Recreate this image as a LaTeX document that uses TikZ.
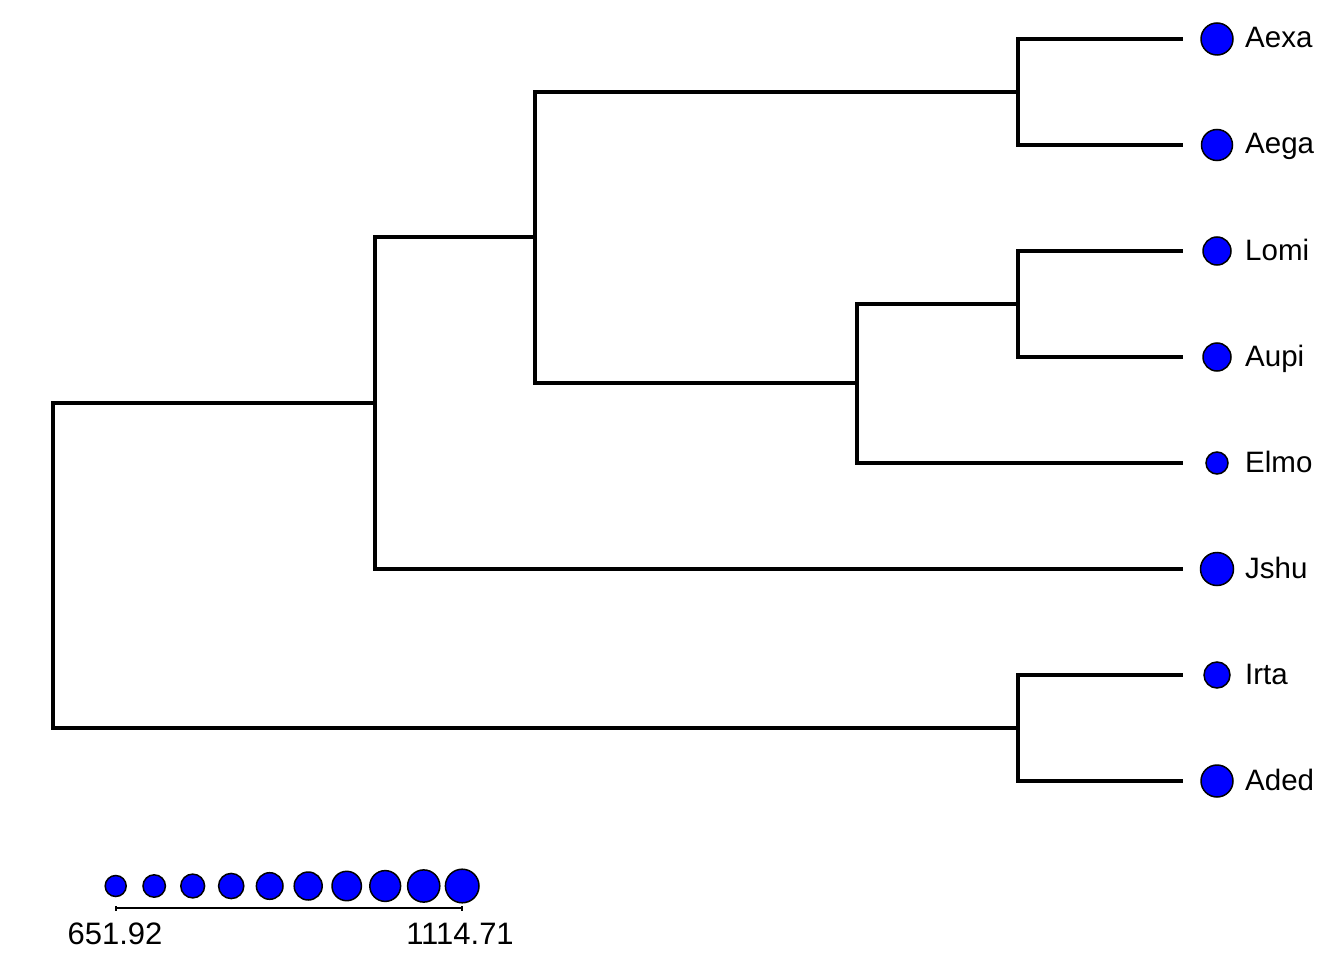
\documentclass[tikz,border=0pt]{standalone}
\usepackage{fontspec}
\setmainfont{Liberation Sans}
\usepackage{tikz}

\begin{document}
\begin{tikzpicture}[x=1pt, y=-1pt,
  branch/.style={line width=3.5pt, line cap=rect},
  tip/.style={circle, draw=black, line width=1.5pt, fill={rgb,255:red,0;green,0;blue,255}, inner sep=0pt},
  taxon/.style={anchor=base west, inner sep=0pt, font=\fontsize{29.5}{34}\selectfont},
  scalelab/.style={anchor=base, inner sep=0pt, font=\fontsize{31}{36}\selectfont}]
\useasboundingbox (0,0) rectangle (1344,960);
% leaf ends
\coordinate (eAexa) at (1181,39);
\coordinate (eAega) at (1181,145);
\coordinate (eLomi) at (1181,251);
\coordinate (eAupi) at (1181,357);
\coordinate (eElmo) at (1181,463);
\coordinate (eJshu) at (1181,569);
\coordinate (eIrta) at (1181,675);
\coordinate (eAded) at (1181,781);
% internal nodes
\coordinate (nAA) at (1018,92);
\coordinate (nLA) at (1018,304);
\coordinate (nLAE) at (857,383);
\coordinate (nTop) at (535,237);
\coordinate (nJ) at (375,403);
\coordinate (nIA) at (1018,728);
\coordinate (root) at (53,403);
% branches
\draw[branch] (eAexa) -| (nAA) |- (eAega);
\draw[branch] (eLomi) -| (nLA) |- (eAupi);
\draw[branch] (nLA) -| (nLAE) |- (eElmo);
\draw[branch] (nAA) -| (nTop) |- (nLAE);
\draw[branch] (nTop) -| (nJ) |- (eJshu);
\draw[branch] (eIrta) -| (nIA) |- (eAded);
\draw[branch] (nJ) -| (root) |- (nIA);
% tip symbols and labels
\node[tip, minimum size=32] (Aexa) at (1217,39) {};
\node[tip, minimum size=31] (Aega) at (1217,145) {};
\node[tip, minimum size=28] (Lomi) at (1217,251) {};
\node[tip, minimum size=28] (Aupi) at (1217,357) {};
\node[tip, minimum size=22] (Elmo) at (1217,463) {};
\node[tip, minimum size=33] (Jshu) at (1217,569) {};
\node[tip, minimum size=26] (Irta) at (1217,675) {};
\node[tip, minimum size=32] (Aded) at (1217,781) {};
\foreach \t/\y in {Aexa/39, Aega/145, Lomi/251, Aupi/357, Elmo/463, Jshu/569, Irta/675, Aded/781}
  \node[taxon] (l\t) at (1245,\y+9) {\t};
% size legend
\foreach \i in {0,...,9}
  \node[tip, minimum size={21+\i*1.4}] (s\i) at ({115.7+\i*38.5},886) {};
\coordinate (barL) at (116,908);
\coordinate (barR) at (462,908);
\draw[line width=1.5pt] (barL) -- (barR);
\draw[line width=1.5pt] ([yshift=2]barL) -- ([yshift=-3]barL);
\draw[line width=1.5pt] ([yshift=2]barR) -- ([yshift=-3]barR);
\node[scalelab] (minlab) at (115,944) {651.92};
\node[scalelab] (maxlab) at (460,944) {1114.71};
\end{tikzpicture}
\end{document}
